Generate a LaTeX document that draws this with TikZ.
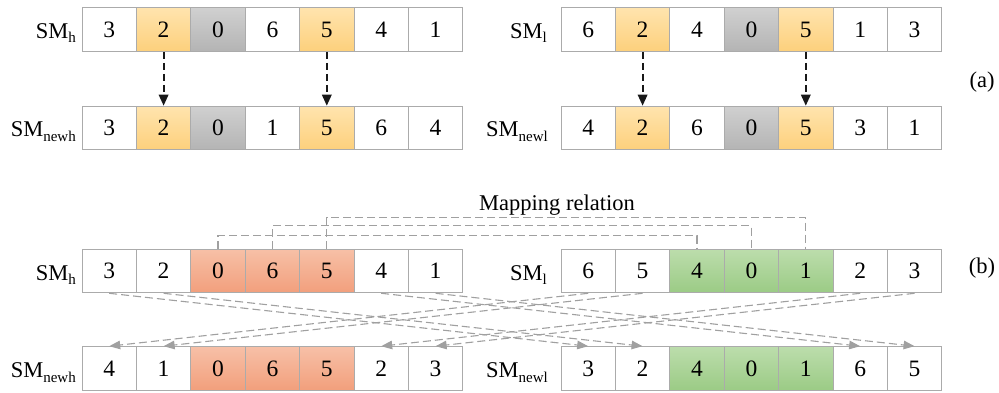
\documentclass[tikz,border=0pt]{standalone}
\usepackage{fontspec}
\setmainfont{Liberation Serif}
\usetikzlibrary{arrows.meta}
\definecolor{cellborder}{HTML}{ABABAB}
\definecolor{dashgray}{HTML}{A0A0A0}
\definecolor{yelT}{HTML}{FFE4AE}
\definecolor{yelB}{HTML}{FDD07C}
\definecolor{gryT}{HTML}{D0D0D0}
\definecolor{gryB}{HTML}{B4B4B4}
\definecolor{salT}{HTML}{F7C0A7}
\definecolor{salB}{HTML}{F29F7C}
\definecolor{grnT}{HTML}{BCDDAC}
\definecolor{grnB}{HTML}{9BCB85}
\newcommand\smsub[1]{SM\raisebox{-4.5pt}{\fontsize{15}{15}\selectfont #1}}
\tikzset{
  cell/.style={draw=cellborder, line width=1pt, minimum width=54.4pt, minimum height=43.6pt, inner sep=0pt, font=\fontsize{23.5}{28}\selectfont},
  cw/.style={fill=white},
  cy/.style={top color=yelT, bottom color=yelB},
  cg/.style={top color=gryT, bottom color=gryB},
  cs/.style={top color=salT, bottom color=salB},
  cn/.style={top color=grnT, bottom color=grnB},
  lbl/.style={anchor=base east, inner sep=0pt, font=\fontsize{22.5}{27}\selectfont},
  blackarrow/.style={draw=black!90, line width=1.8pt, dash pattern=on 7pt off 4pt, -{Triangle[length=11pt,width=9.5pt]}},
  grayline/.style={draw=dashgray, line width=1.1pt, dash pattern=on 8pt off 4pt},
  grayarrow/.style={grayline, -{Triangle[length=11pt,width=8.5pt]}},
  txt/.style={inner sep=0pt, font=\fontsize{22.5}{27}\selectfont}
}
\begin{document}
\begin{tikzpicture}[x=1pt, y=-1pt]
\useasboundingbox (0,0) rectangle (999,393);
% rows
\foreach \v/\st [count=\i from 0] in {3/cw,2/cy,0/cg,6/cw,5/cy,4/cw,1/cw}
  \node[cell,\st] (A\i) at (109.2+54.4*\i, 29.5) {\v};
\foreach \v/\st [count=\i from 0] in {6/cw,2/cy,4/cw,0/cg,5/cy,1/cw,3/cw}
  \node[cell,\st] (B\i) at (588.2+54.4*\i, 29.5) {\v};
\foreach \v/\st [count=\i from 0] in {3/cw,2/cy,0/cg,1/cw,5/cy,6/cw,4/cw}
  \node[cell,\st] (C\i) at (109.2+54.4*\i, 128) {\v};
\foreach \v/\st [count=\i from 0] in {4/cw,2/cy,6/cw,0/cg,5/cy,3/cw,1/cw}
  \node[cell,\st] (D\i) at (588.2+54.4*\i, 128) {\v};
\foreach \v/\st [count=\i from 0] in {3/cw,2/cw,0/cs,6/cs,5/cs,4/cw,1/cw}
  \node[cell,\st] (E\i) at (109.2+54.4*\i, 271) {\v};
\foreach \v/\st [count=\i from 0] in {6/cw,5/cw,4/cn,0/cn,1/cn,2/cw,3/cw}
  \node[cell,\st] (F\i) at (588.2+54.4*\i, 271) {\v};
\foreach \v/\st [count=\i from 0] in {4/cw,1/cw,0/cs,6/cs,5/cs,2/cw,3/cw}
  \node[cell,\st] (G\i) at (109.2+54.4*\i, 368.5) {\v};
\foreach \v/\st [count=\i from 0] in {3/cw,2/cw,4/cn,0/cn,1/cn,6/cw,5/cw}
  \node[cell,\st] (H\i) at (588.2+54.4*\i, 368.5) {\v};
% labels
\node[lbl] (LA) at (76, 38.5) {\smsub{h}};
\node[lbl] (LB) at (547, 38.5) {\smsub{l}};
\node[lbl] (LC) at (76, 137) {\smsub{newh}};
\node[lbl] (LD) at (548, 137) {\smsub{newl}};
\node[lbl] (LE) at (76, 280) {\smsub{h}};
\node[lbl] (LF) at (547, 280) {\smsub{l}};
\node[lbl] (LG) at (76, 377.5) {\smsub{newh}};
\node[lbl] (LH) at (548, 377.5) {\smsub{newl}};
\node[txt] (pa) at (982, 82) {(a)};
\node[txt] (pb) at (982, 268) {(b)};
\node[txt, anchor=base] (map) at (557, 211) {Mapping relation};
% (a) arrows
\draw[blackarrow] (A1.south) -- (C1.north);
\draw[blackarrow] (A4.south) -- (C4.north);
\draw[blackarrow] (B1.south) -- (D1.north);
\draw[blackarrow] (B4.south) -- (D4.north);
% mapping relation
\draw[grayline] (E2.north) -- ++(0,-13) -| (F2.north);
\draw[grayline] (E3.north) -- ++(0,-23) -| (F3.north);
\draw[grayline] (E4.north) -- ++(0,-31.5) -| (F4.north);
% crossings
\draw[grayarrow] (E0.south) -- (H0.north);
\draw[grayarrow] (E1.south) -- (H1.north);
\draw[grayarrow] (E5.south) -- (H5.north);
\draw[grayarrow] (E6.south) -- (H6.north);
\draw[grayarrow] (F0.south) -- (G0.north);
\draw[grayarrow] (F1.south) -- (G1.north);
\draw[grayarrow] (F5.south) -- (G5.north);
\draw[grayarrow] (F6.south) -- (G6.north);
\end{tikzpicture}
\end{document}
